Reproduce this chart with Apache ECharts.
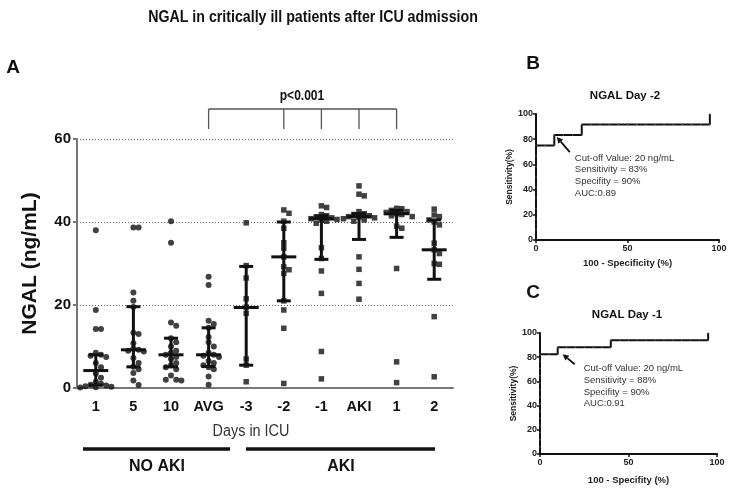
<!DOCTYPE html>
<html><head><meta charset="utf-8">
<script src="https://cdn.jsdelivr.net/npm/echarts@6/dist/echarts.min.js"></script>
<style>html,body{margin:0;padding:0;background:#fff}#c{width:730px;height:488px}</style>
</head><body><div id="c"></div>
<script>
// ---------------- data ----------------
const categories = ['1','5','10','AVG','-3','-2','-1','AKI','1','2'];
const noAkiDay1  = [38, 18.8, 14.2, 14.2, 8.5, 8, 7.8, 7.5, 6, 5, 3.5, 2.5, 1.5, 1, 0.8, 0.6, 0.4, 0.3, 0.2, 0.1];
const noAkiDay5  = [38.7, 38.7, 23, 21, 19.5, 13.3, 13, 10.8, 9.5, 9.2, 9, 8.8, 7.2, 6, 5.1, 4.5, 3.6, 1.8, 0.7];
const noAkiDay10 = [40.2, 35, 15.8, 15, 12, 11, 10, 9, 8.5, 8, 7.5, 7, 6, 5.5, 5, 4.5, 3, 2, 2, 1.8];
const noAkiAvg   = [26.8, 24.8, 16.2, 15.4, 14.5, 12.3, 11, 10, 8.5, 8, 7.8, 7.5, 6.5, 6, 5.5, 5, 4.5, 2.8, 0.8];
const akiDayM3   = [39.8, 29.5, 26.5, 21.5, 19.5, 18, 7, 5.5, 1.5];
const akiDayM2   = [42.9, 42.1, 40.2, 38.5, 35, 33.7, 31.6, 29.2, 28.5, 27.6, 21, 18.8, 14.4, 1.1];
const akiDayM1   = [43.9, 43.5, 41.8, 41.5, 41.2, 41, 40.8, 40.6, 40.5, 40.2, 39.7, 33.8, 31.2, 28.2, 22.8, 8.8, 2.2];
const akiDay0    = [48.7, 46.7, 46.3, 42.5, 42, 41.8, 41.5, 41.3, 41.2, 41, 40.8, 40.5, 40.2, 31.6, 28.6, 25.2, 21.4];
const akiDayP1   = [43.3, 43.2, 42.8, 42.5, 42.3, 42, 41.8, 41.5, 41.3, 39, 38.5, 28.8, 6.3, 1.3];
const akiDayP2   = [43.1, 41.7, 41.3, 40.5, 40, 39.3, 34.9, 33.3, 32.4, 30, 29.8, 17.2, 2.7];
const medians = [4.2, 9.2, 8, 8, 19.4, 31.6, 40.8, 41.3, 42, 33.3];
const q1s     = [0.7, 5.1, 5.1, 5.2, 5.5, 21, 31, 35.8, 36.3, 26.2];
const q3s     = [8, 19.6, 12, 14.5, 29.3, 40, 41.5, 42, 42.8, 40.5];
const yTicks = [0, 20, 40, 60];

// ROC curves: [100 - specificity, sensitivity]
const rocDayM2 = [[0,8.3],[0,16.7],[0,25],[0,33.3],[0,41.7],[0,50],[0,58.3],[0,66.7],[0,75],[5,75],[10,75],[10,83.3],[15,83.3],[20,83.3],[25,83.3],[25,91.7],[30,91.7],[35,91.7],[40,91.7],[45,91.7],[50,91.7],[55,91.7],[60,91.7],[65,91.7],[70,91.7],[75,91.7],[80,91.7],[85,91.7],[90,91.7],[95,91.7],[95,100]];
const rocDayM1 = [[0,5.9],[0,11.8],[0,17.6],[0,23.5],[0,29.4],[0,35.3],[0,41.2],[0,47.1],[0,52.9],[0,58.8],[0,64.7],[0,70.6],[0,76.5],[0,82.4],[5,82.4],[10,82.4],[10,88.2],[15,88.2],[20,88.2],[25,88.2],[30,88.2],[35,88.2],[40,88.2],[40,94.1],[45,94.1],[50,94.1],[55,94.1],[60,94.1],[65,94.1],[70,94.1],[75,94.1],[80,94.1],[85,94.1],[90,94.1],[95,94.1],[95,100]];
const cutoffM2 = [10, 83.3];
const cutoffM1 = [10, 88.2];
const textM2 = ['Cut-off Value: 20 ng/mL','Sensitivity = 83%','Specifity = 90%','AUC:0.89'];
const textM1 = ['Cut-off Value: 20 ng/mL','Sensitivity = 88%','Specifity = 90%','AUC:0.91'];

const groups = [noAkiDay1, noAkiDay5, noAkiDay10, noAkiAvg, akiDayM3, akiDayM2, akiDayM1, akiDay0, akiDayP1, akiDayP2];

// ---------------- layout ----------------
const G = {left: 77, top: 139, width: 376, height: 249};
const FF = '"Liberation Sans", Arial, sans-serif';
const FA = '"Liberation Sans", Arial, sans-serif';

function swarm(vals, ci) {
  const pxY = G.height / 60, pxX = G.width / 10, d = 5.2;
  const placed = [], out = [];
  const order = vals.map((v, i) => i).sort((a, b) => vals[b] - vals[a]);
  for (const i of order) {
    const y = vals[i] * pxY;
    let off = 0;
    for (let n = 0; n < 40; n++) {
      off = (n === 0 ? 0 : (n % 2 ? 1 : -1) * Math.ceil(n / 2)) * d;
      if (!placed.some(p => Math.hypot(p[0] - off, p[1] - y) < d)) break;
    }
    placed.push([off, y]);
    out.push([ci + off / pxX, vals[i]]);
  }
  return out;
}

const chart = echarts.init(document.getElementById('c'), null, {renderer: 'canvas'});

const rocAxisX = (gi, name, gap) => ({
  type: 'value', gridIndex: gi, min: 0, max: 100, interval: 50,
  name, nameLocation: 'middle', nameGap: gap,
  nameTextStyle: {fontFamily: FA, fontWeight: 'bold', fontSize: 9.5, color: '#222'},
  axisLine: {onZero: false, lineStyle: {color: '#111', width: 2}},
  axisTick: {show: true, length: 3, lineStyle: {color: '#111', width: 1.5}},
  axisLabel: {fontFamily: FA, fontWeight: 'bold', fontSize: 9, color: '#222', margin: 4},
  splitLine: {show: false}
});
const rocAxisY = (gi) => ({
  type: 'value', gridIndex: gi, min: 0, max: 100, interval: 20,
  name: 'Sensitivity(%)', nameLocation: 'middle', nameGap: 14,
  nameTextStyle: {fontFamily: FA, fontWeight: 'bold', fontSize: 8.5, color: '#222'},
  axisLine: {show: true, onZero: false, lineStyle: {color: '#111', width: 2}},
  axisTick: {show: true, length: 3, lineStyle: {color: '#111', width: 1.5}},
  axisLabel: {fontFamily: FA, fontWeight: 'bold', fontSize: 9, color: '#222', margin: 3},
  splitLine: {show: false}
});

const option = {
  animation: false,
  backgroundColor: '#fff',
  grid: [
    {left: G.left, top: G.top, width: G.width, height: G.height},
    {left: 536, top: 114, width: 183, height: 126},
    {left: 540, top: 333, width: 177, height: 121}
  ],
  xAxis: [
    {type: 'category', gridIndex: 0, data: categories, boundaryGap: true,
     axisLine: {onZero: false, lineStyle: {color: '#777', width: 2}},
     axisTick: {show: false},
     axisLabel: {interval: 0, fontFamily: FF, fontWeight: 'bold', fontSize: 14.5, color: '#111', margin: 11}},
    {type: 'value', gridIndex: 0, min: -0.5, max: 9.5, show: false},
    rocAxisX(1, '100 - Specificity (%)', 18),
    rocAxisX(2, '100 - Specifity (%)', 21)
  ],
  yAxis: [
    {type: 'value', gridIndex: 0, min: yTicks[0], max: yTicks[yTicks.length - 1], interval: 20,
     name: 'NGAL (ng/mL)', nameLocation: 'middle', nameGap: 36,
     nameTextStyle: {fontFamily: FF, fontWeight: 'bold', fontSize: 21, color: '#111'},
     axisLine: {show: true, onZero: false, lineStyle: {color: '#777', width: 2}},
     axisTick: {show: true, length: 4, lineStyle: {color: '#777', width: 2}},
     axisLabel: {fontFamily: FF, fontWeight: 'bold', fontSize: 15, color: '#111', margin: 6},
     splitLine: {show: true, lineStyle: {color: '#666', type: [1, 2], width: 1}}},
    rocAxisY(1),
    rocAxisY(2)
  ],
  series: [
    ...groups.map((g, ci) => ({
      type: 'scatter', xAxisIndex: 1, yAxisIndex: 0,
      symbol: ci < 4 ? 'circle' : 'rect', symbolSize: ci < 4 ? 6 : 5.5,
      itemStyle: {color: '#111'}, data: swarm(g, ci), z: 2
    })),
    {type: 'custom', xAxisIndex: 1, yAxisIndex: 0, z: 3,
     data: categories.map((c, i) => [i, q1s[i], medians[i], q3s[i]]),
     renderItem(params, api) {
       const x = api.value(0);
       const p1 = api.coord([x, api.value(1)]), pm = api.coord([x, api.value(2)]), p3 = api.coord([x, api.value(3)]);
       const st = {stroke: '#111', lineWidth: 3};
       const hl = (p, w) => ({type: 'line', shape: {x1: p[0] - w, y1: p[1], x2: p[0] + w, y2: p[1]}, style: st});
       return {type: 'group', children: [
         {type: 'line', shape: {x1: p1[0], y1: p1[1], x2: p3[0], y2: p3[1]}, style: st},
         hl(p1, 7), hl(p3, 7), hl(pm, 12.5)
       ]};
     }},
    {type: 'line', xAxisIndex: 2, yAxisIndex: 1, data: rocDayM2, symbol: 'circle', symbolSize: 1.4,
     showSymbol: true, lineStyle: {color: '#111', width: 2}, itemStyle: {color: '#666', borderWidth: 0}},
    {type: 'line', xAxisIndex: 3, yAxisIndex: 2, data: rocDayM1, symbol: 'circle', symbolSize: 1.4,
     showSymbol: true, lineStyle: {color: '#111', width: 2}, itemStyle: {color: '#666', borderWidth: 0}}
  ]
};
chart.setOption(option);

// ---------------- decorations ----------------
const pos = i => chart.convertToPixel({xAxisIndex: 1, yAxisIndex: 0}, [i, 0])[0];
const bracketX = [3, 5, 6, 7, 8].map(pos);
const graphic = [];
const txt = (x, y, s, size, weight, align, fam, color, sx) => ({type: 'text', x, y, scaleX: sx || 1,
  style: {text: s, fontSize: size, fontWeight: weight || 'normal', fontFamily: fam || FF, fill: color || '#111',
          textAlign: align || 'center', textVerticalAlign: 'middle'}});
graphic.push(txt(313, 17, 'NGAL in critically ill patients after ICU admission', 16.5, 'bold', 'center', FF, '#111', 0.86));
graphic.push(txt(13, 68, 'A', 19, 'bold'));
graphic.push(txt(533, 64, 'B', 19, 'bold'));
graphic.push(txt(533, 293, 'C', 19, 'bold'));
graphic.push(txt(302, 96, 'p<0.001', 14, 'bold', 'center', FF, '#111', 0.86));
graphic.push({type: 'line', shape: {x1: bracketX[0], y1: 109, x2: bracketX[4], y2: 109}, style: {stroke: '#555', lineWidth: 1.3}});
bracketX.forEach(x => graphic.push({type: 'line', shape: {x1: x, y1: 109, x2: x, y2: 129}, style: {stroke: '#555', lineWidth: 1.3}}));
graphic.push(txt(251, 432, 'Days in ICU', 16, 'normal', 'center', FF, '#333', 0.9));
graphic.push({type: 'line', shape: {x1: 83, y1: 449, x2: 230, y2: 449}, style: {stroke: '#111', lineWidth: 3.5}});
graphic.push({type: 'line', shape: {x1: 246, y1: 449, x2: 435, y2: 449}, style: {stroke: '#111', lineWidth: 3.5}});
graphic.push(txt(157, 467, 'NO AKI', 16, 'bold'));
graphic.push(txt(341, 467, 'AKI', 16, 'bold'));
graphic.push(txt(625, 96, 'NGAL Day -2', 11.5, 'bold', 'center', FA));
graphic.push(txt(627, 315, 'NGAL Day -1', 11.5, 'bold', 'center', FA));

function annot(gi, pt, headOff, tailOff, textOff, lines) {
  const a = chart.convertToPixel({gridIndex: gi}, pt);
  const h = [a[0] + headOff[0], a[1] + headOff[1]], t = [a[0] + tailOff[0], a[1] + tailOff[1]];
  const ang = Math.atan2(h[1] - t[1], h[0] - t[0]);
  const L = 6, W = 3.2;
  const b = [h[0] - L * Math.cos(ang), h[1] - L * Math.sin(ang)];
  graphic.push({type: 'line', shape: {x1: t[0], y1: t[1], x2: b[0], y2: b[1]}, style: {stroke: '#111', lineWidth: 1.8}});
  graphic.push({type: 'polygon', shape: {points: [h,
    [b[0] + W * Math.sin(ang), b[1] - W * Math.cos(ang)],
    [b[0] - W * Math.sin(ang), b[1] + W * Math.cos(ang)]]}, style: {fill: '#111'}});
  lines.forEach((s, k) => graphic.push(txt(a[0] + textOff[0], a[1] + textOff[1] + k * 11.8, s, 9.5, 'normal', 'left', FA, '#333')));
}
annot(1, cutoffM2, [2.5, 2], [15.5, 17], [20.5, 23], textM2);
annot(2, cutoffM1, [5, 7], [17, 17], [26, 21], textM1);

chart.setOption({graphic});
</script>
</body></html>
